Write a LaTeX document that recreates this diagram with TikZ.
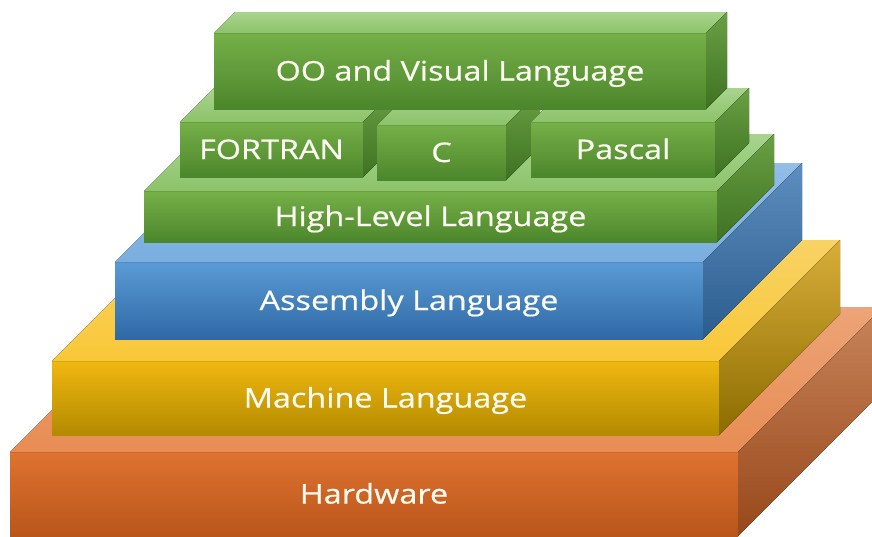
\documentclass[tikz,border=0pt]{standalone}
\usepackage{fontspec}
\setmainfont{Open Sans}[FakeStretch=1.2, FakeBold=0.6]
\usetikzlibrary{calc}
% orange
\definecolor{oF1}{HTML}{DF7230}\definecolor{oF2}{HTML}{B9561A}
\definecolor{oT1}{HTML}{E88C54}\definecolor{oT2}{HTML}{EDA478}
\definecolor{oS1}{HTML}{C8845A}\definecolor{oS2}{HTML}{97481A}
% yellow
\definecolor{yF1}{HTML}{F0B810}\definecolor{yF2}{HTML}{B38A00}
\definecolor{yT1}{HTML}{F9C838}\definecolor{yT2}{HTML}{F8D264}
\definecolor{yS1}{HTML}{D9AE3A}\definecolor{yS2}{HTML}{8C6C00}
% blue
\definecolor{bF1}{HTML}{5B9BD5}\definecolor{bF2}{HTML}{2E69A6}
\definecolor{bT1}{HTML}{79AEE0}\definecolor{bT2}{HTML}{92BEE7}
\definecolor{bS1}{HTML}{5E8EC0}\definecolor{bS2}{HTML}{2B5C8E}
% green
\definecolor{gF1}{HTML}{76B048}\definecolor{gF2}{HTML}{4C862C}
\definecolor{gT1}{HTML}{8CC36A}\definecolor{gT2}{HTML}{A9D48E}
\definecolor{gS1}{HTML}{6AA044}\definecolor{gS2}{HTML}{3E7222}
\definecolor{txt}{HTML}{FBFBF2}
% #1 name, #2 x1, #3 y1, #4 x2, #5 y2, #6 depth, #7 colour prefix, #8 text
\newcommand\layerblock[8]{%
  \node[frontface, minimum width={#4-#2}, minimum height={#5-#3},
        top color=#7F1, bottom color=#7F2] (#1) at ({(#2+#4)/2},{(#3+#5)/2}) {#8};
  \fill[top color=#7T2, bottom color=#7T1]
    (#1.north west) -- ++(#6,-#6) -- ($(#1.north east)+(#6,-#6)$) -- (#1.north east) -- cycle;
  \fill[top color=#7S1, bottom color=#7S2]
    (#1.north east) -- ++(#6,-#6) -- ($(#1.south east)+(#6,-#6)$) -- (#1.south east) -- cycle;
}
\begin{document}
\begin{tikzpicture}[x=1pt,y=-1pt,
  frontface/.style={inner sep=0pt, outer sep=0pt, text=txt,
    font=\fontsize{27}{30}\selectfont, text height=19pt, text depth=0pt}]
\useasboundingbox (0,0) rectangle (872,536);
\clip (0,0) rectangle (872,536);
\layerblock{hw}{10}{452}{738}{536}{145}{o}{Hardware}
\layerblock{ml}{52}{361}{719}{435}{121}{y}{Machine Language}
\layerblock{al}{115}{262}{703}{339}{99}{b}{Assembly Language}
\layerblock{hl}{144}{191}{717}{242}{57}{g}{High-Level Language}
\layerblock{ft}{180}{122}{363}{177}{34}{g}{FORTRAN}
\layerblock{cc}{377}{125}{506}{180}{34}{g}{C}
\layerblock{pa}{531}{122}{715}{177}{34}{g}{Pascal}
\layerblock{oo}{214}{33}{706}{109}{21}{g}{OO and Visual Language}
\end{tikzpicture}
\end{document}
